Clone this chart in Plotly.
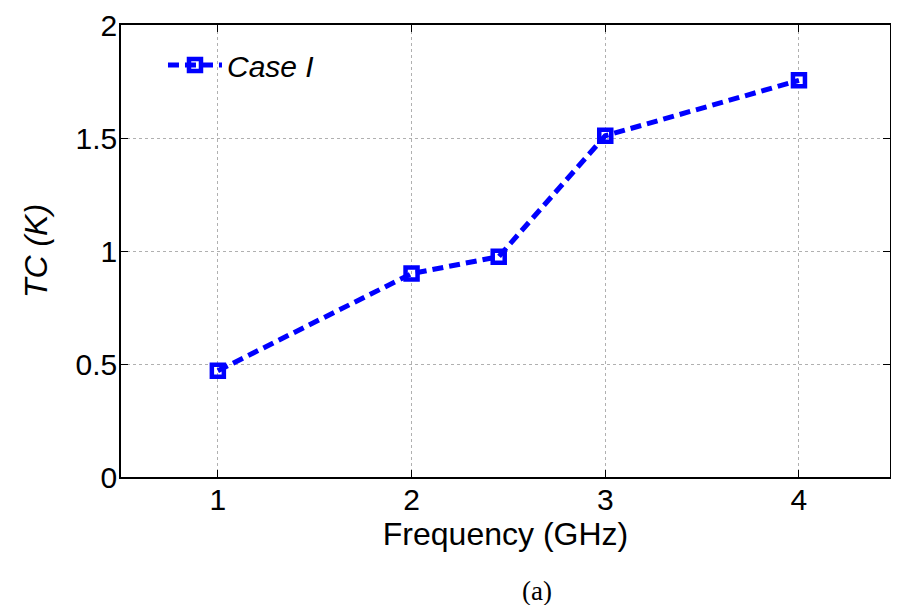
import plotly.graph_objects as go

freq = [1, 2, 2.45, 3, 4]
tc = [0.47, 0.90, 0.975, 1.51, 1.755]
xticks = [1, 2, 3, 4]
yticks = [0, 0.5, 1, 1.5, 2]
ytick_labels = ["0", "0.5", "1", "1.5", "2"]

fig = go.Figure()
fig.add_trace(go.Scatter(
    x=freq, y=tc, mode="lines+markers", name="<i>Case I</i>",
    line=dict(color="#0000ff", width=5, dash="11px,6px"),
    marker=dict(symbol="square-open", size=12, color="#0000ff", line=dict(width=4.5, color="#0000ff")),
))

font = "Liberation Sans"
axis_common = dict(
    showline=True, linecolor="black", linewidth=1.5, mirror="ticks",
    ticks="inside", ticklen=7, tickcolor="black",
    showgrid=True, gridcolor="#b0b0b0", griddash="dot", gridwidth=1,
    zeroline=False, tickfont=dict(family=font, size=30, color="black"),
    ticklabeloverflow="allow", automargin=False,
)
fig.update_xaxes(range=[0.5, 4.47], tickvals=xticks, **axis_common, ticklabelstandoff=-5,
                 title=dict(text="Frequency (GHz)", font=dict(family=font, size=32, color="black"), standoff=2))
fig.update_yaxes(range=[0, 2], tickvals=yticks, ticktext=ytick_labels, **axis_common, ticklabelstandoff=-4,
                 title=dict(text="<i>TC (K)</i>", font=dict(family=font, size=32, color="black"), standoff=18))

fig.add_annotation(text="(a)", x=0.541, y=-0.252, xref="paper", yref="paper", showarrow=False,
                   xanchor="center", yanchor="middle",
                   font=dict(family="Liberation Serif", size=27, color="black"))

fig.update_layout(
    width=883, height=597,
    margin=dict(l=113, r=1, t=17, b=128),
    plot_bgcolor="white", paper_bgcolor="white",
    showlegend=True,
    legend=dict(x=0.0546, y=0.969, xanchor="left", yanchor="top", bgcolor="rgba(0,0,0,0)",
                font=dict(family=font, size=30, color="black"), itemwidth=54),
)
fig.write_html("out.html")
